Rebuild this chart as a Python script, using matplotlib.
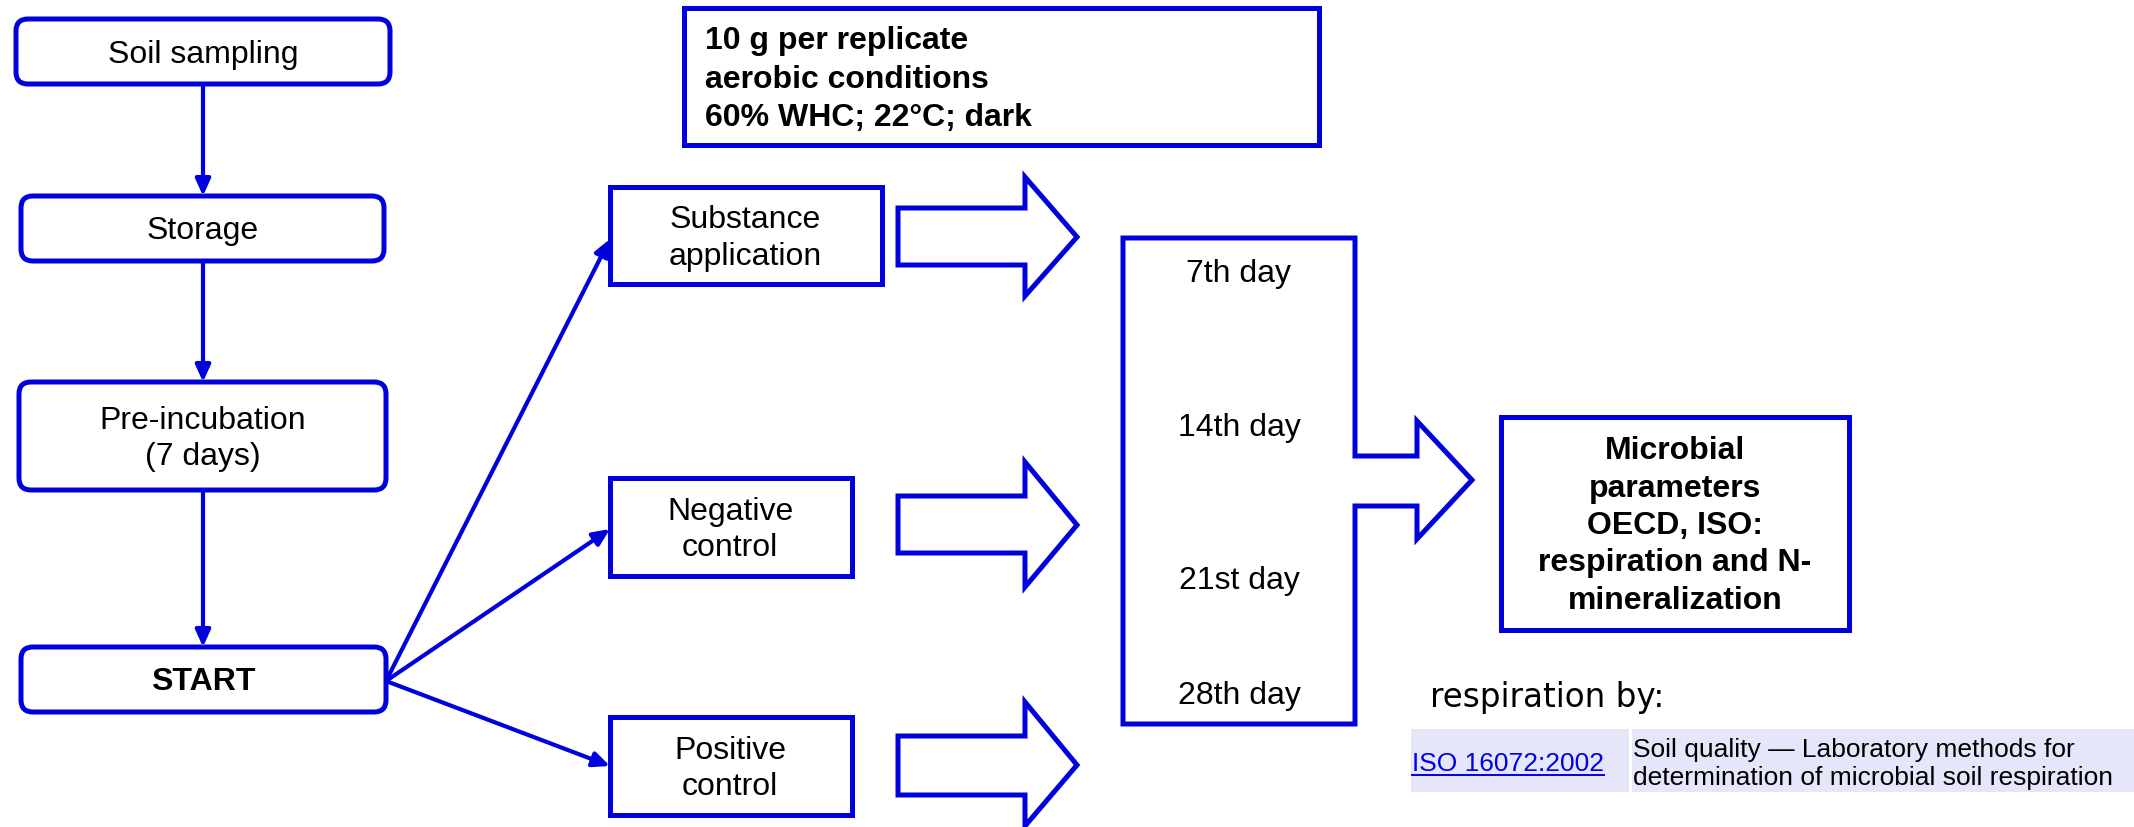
import matplotlib
matplotlib.use("Agg")
import matplotlib.pyplot as plt
from matplotlib.patches import FancyBboxPatch, Rectangle, Polygon

# labels of the flow chart
steps = ["Soil sampling", "Storage", "Pre-incubation\n(7 days)", "START"]
branches = ["Substance\napplication", "Negative\ncontrol", "Positive\ncontrol"]
days = ["7th day", "14th day", "21st day", "28th day"]
conditions = ["10 g per replicate", "aerobic conditions", "60% WHC; 22°C; dark"]
result = "Microbial\nparameters\nOECD, ISO:\nrespiration and N-\nmineralization"
note = "respiration by:"
iso_code = "ISO 16072:2002"
iso_title = "Soil quality \u2014 Laboratory methods for\ndetermination of microbial soil respiration"

BLUE = "#0000dd"
SANS = ["Liberation Sans", "DejaVu Sans"]
W, H = 2134, 828

fig = plt.figure(figsize=(W / 100, H / 100), dpi=100)
ax = fig.add_axes([0, 0, 1, 1])
ax.set_xlim(0, W)
ax.set_ylim(H, 0)
ax.axis("off")

# left column: rounded boxes (x0, x1, y0, y1)
step_boxes = [(16, 390, 20, 85), (21, 384, 197, 262), (19, 386, 383, 491), (21, 386, 648, 713)]
for (x0, x1, y0, y1), lab in zip(step_boxes, steps):
    ax.add_patch(FancyBboxPatch((x0, y0), x1 - x0, y1 - y0,
                                boxstyle="round,pad=0,rounding_size=12",
                                fc="white", ec=BLUE, lw=3.6))
    ax.text(203, (y0 + y1) / 2 + 2, lab, ha="center", va="center", fontsize=23,
            family=SANS, fontweight="bold" if lab == "START" else "normal",
            linespacing=1.3)

# vertical connectors
for a, b in zip(step_boxes[:-1], step_boxes[1:]):
    ax.annotate("", xy=(203, b[2]), xytext=(203, a[3]),
                arrowprops=dict(arrowstyle="-|>,head_length=1.0,head_width=0.45",
                                color=BLUE, lw=3, shrinkA=0, shrinkB=0))

# branch boxes
branch_boxes = [(610, 882, 188, 285), (610, 852, 479, 577), (610, 852, 718, 816)]
branch_cx = [745, 730, 730]
branch_tips = [240, 530, 767]
for (x0, x1, y0, y1), lab, cx, ty in zip(branch_boxes, branches, branch_cx, branch_tips):
    ax.add_patch(Rectangle((x0, y0), x1 - x0, y1 - y0, fc="white", ec=BLUE, lw=3.6))
    ax.text(cx, (y0 + y1) / 2 + 2, lab, ha="center", va="center", fontsize=23,
            family=SANS, linespacing=1.3)
    ax.annotate("", xy=(x0, ty), xytext=(386, 682),
                arrowprops=dict(arrowstyle="-|>,head_length=1.0,head_width=0.45",
                                color=BLUE, lw=3, shrinkA=0, shrinkB=0))

# block arrows (shaft y0, shaft y1, head y0, head y1, tip y)
blocks = [(209, 266, 178, 297, 238), (497, 554, 463, 588, 526), (737, 796, 703, 827, 766)]
for s0, s1, h0, h1, t in blocks:
    ax.add_patch(Polygon([(898, s0), (1025, s0), (1025, h0), (1077, t), (1025, h1),
                          (1025, s1), (898, s1)], closed=True, fc="white", ec=BLUE,
                         lw=3.6, joinstyle="miter"))

# conditions box
ax.add_patch(Rectangle((684, 9), 635, 137, fc="white", ec=BLUE, lw=3.6))
for yy, line in zip([41, 80, 118], conditions):
    ax.text(705, yy, line, ha="left", va="center", fontsize=23, family=SANS,
            fontweight="bold")

# days box merged with big arrow
ax.add_patch(Polygon([(1123, 239), (1355, 239), (1355, 457), (1417, 457), (1417, 422),
                      (1472, 481), (1417, 540), (1417, 507), (1355, 507), (1355, 725),
                      (1123, 725)], closed=True, fc="white", ec=BLUE, lw=3.6,
                     joinstyle="miter"))
for yy, d in zip([274, 428, 581, 696], days):
    ax.text(1239, yy, d, ha="center", va="center", fontsize=23, family=SANS)

# result box
ax.add_patch(Rectangle((1501, 418), 348, 213, fc="white", ec=BLUE, lw=3.6))
ax.text(1675, 526, result, ha="center", va="center", fontsize=23, family=SANS,
        fontweight="bold", linespacing=1.32)

# reference note and table
ax.text(1430, 698, note, ha="left", va="center", fontsize=23.5, family="DejaVu Sans")
ax.add_patch(Rectangle((1411, 730), 218, 63, fc="#e6e6fa", ec="none"))
ax.add_patch(Rectangle((1632, 730), W - 1632, 63, fc="#e6e6fa", ec="none"))
link = ax.text(1412, 764, iso_code, ha="left", va="center", fontsize=19,
               family=SANS, color="#0000ee")
ax.text(1633, 764, iso_title, ha="left", va="center", fontsize=19,
        family=SANS, linespacing=1.2)

fig.canvas.draw()
bb = link.get_window_extent().transformed(ax.transData.inverted())
ax.plot([bb.x0, bb.x1], [776, 776], color="#0000ee", lw=1.4)

fig.savefig("out.png", dpi=100, facecolor="white")
